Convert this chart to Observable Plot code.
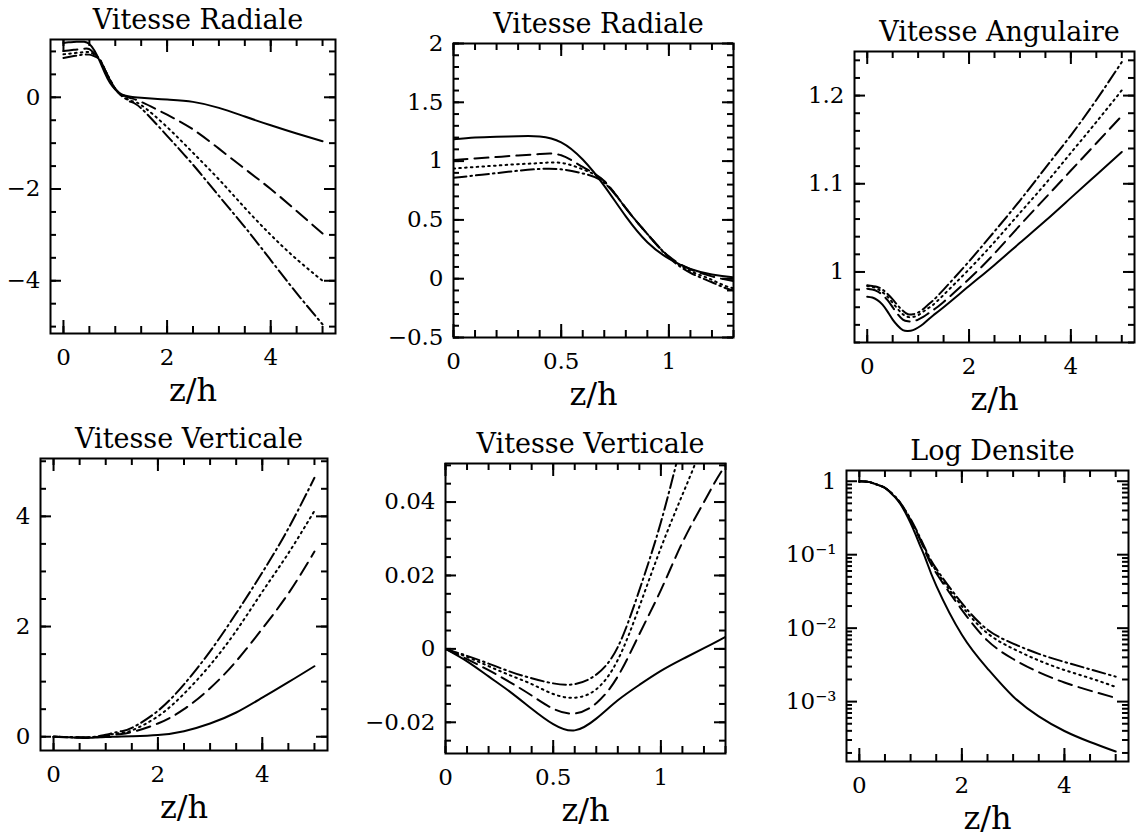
<!DOCTYPE html>
<html><head><meta charset="utf-8">
<script src="https://cdn.jsdelivr.net/npm/d3@7"></script>
<script src="https://cdn.jsdelivr.net/npm/@observablehq/plot@0.6"></script>
<style>
body{margin:0;background:#fff;}
#root{position:relative;width:1136px;height:837px;overflow:hidden;background:#fff;}
.panel{position:absolute;}
</style></head><body><div id="root"></div>
<script>
// z/h sample positions shared by every series
const z = [0,0.1,0.2,0.3,0.4,0.5,0.6,0.7,0.8,0.9,1.0,1.1,1.2,1.3,1.5,2,2.5,3,3.5,4,4.5,5];

// Vitesse Radiale
const vrSolid   = [1.185,1.200,1.207,1.212,1.210,1.160,1.014,0.790,0.530,0.310,0.170,0.082,0.035,0.011,-0.010,-0.050,-0.100,-0.230,-0.420,-0.610,-0.790,-0.960];
const vrDashed  = [1.010,1.022,1.035,1.048,1.060,1.050,0.950,0.830,0.600,0.380,0.190,0.080,0.020,-0.020,-0.100,-0.380,-0.700,-1.120,-1.560,-2.000,-2.480,-2.970];
const vrDotted  = [0.937,0.950,0.962,0.974,0.983,0.985,0.930,0.825,0.600,0.380,0.185,0.065,-0.010,-0.080,-0.170,-0.650,-1.210,-1.790,-2.410,-3.000,-3.530,-4.000];
const vrDashDot = [0.858,0.878,0.898,0.918,0.933,0.930,0.895,0.815,0.600,0.380,0.180,0.050,-0.030,-0.100,-0.240,-0.840,-1.470,-2.150,-2.830,-3.550,-4.270,-4.950];

// Vitesse Angulaire
const omSolid   = [0.972,0.971,0.968,0.963,0.955,0.946,0.939,0.934,0.933,0.934,0.937,0.941,0.946,0.951,0.960,0.984,1.008,1.033,1.058,1.084,1.110,1.136];
const omDashed  = [0.981,0.980,0.978,0.974,0.968,0.960,0.952,0.946,0.944,0.944,0.946,0.949,0.953,0.957,0.966,0.992,1.021,1.053,1.084,1.115,1.146,1.177];
const omDotted  = [0.984,0.983,0.981,0.977,0.972,0.965,0.958,0.952,0.949,0.949,0.951,0.955,0.959,0.963,0.974,1.003,1.034,1.067,1.100,1.135,1.170,1.206];
const omDashDot = [0.985,0.984,0.983,0.980,0.975,0.969,0.962,0.956,0.952,0.952,0.954,0.958,0.963,0.968,0.980,1.012,1.046,1.081,1.118,1.155,1.195,1.238];

// Vitesse Verticale
const vzSolid   = [0,-0.0034,-0.0075,-0.0117,-0.0163,-0.0205,-0.0222,-0.0190,-0.0140,-0.0098,-0.0060,-0.0028,0.0002,0.0033,0.009,0.030,0.100,0.240,0.440,0.710,0.990,1.280];
const vzDashed  = [0,-0.0028,-0.0058,-0.0091,-0.0127,-0.0163,-0.0176,-0.0148,-0.0075,0.0040,0.0160,0.0290,0.0400,0.0500,0.085,0.240,0.500,0.880,1.370,1.960,2.600,3.360];
const vzDotted  = [0,-0.0022,-0.0047,-0.0072,-0.0096,-0.0123,-0.0133,-0.0110,-0.0030,0.0115,0.0275,0.0420,0.0570,0.0710,0.115,0.370,0.780,1.300,1.920,2.630,3.330,4.100];
const vzDashDot = [0,-0.0019,-0.0040,-0.0062,-0.0080,-0.0094,-0.0096,-0.0070,0.0005,0.0160,0.0345,0.0570,0.0800,0.1000,0.160,0.470,0.950,1.550,2.240,2.980,3.780,4.700];

// Log Densite (log10 of the density)
const lrSolid   = [0,-0.003,-0.012,-0.035,-0.060,-0.090,-0.150,-0.220,-0.310,-0.430,-0.570,-0.730,-0.900,-1.070,-1.420,-2.090,-2.550,-2.930,-3.200,-3.400,-3.550,-3.680];
const lrDashed  = [0,-0.003,-0.012,-0.035,-0.060,-0.090,-0.145,-0.215,-0.300,-0.410,-0.530,-0.670,-0.820,-0.980,-1.250,-1.750,-2.170,-2.420,-2.600,-2.740,-2.850,-2.950];
const lrDotted  = [0,-0.003,-0.012,-0.035,-0.060,-0.090,-0.145,-0.213,-0.297,-0.405,-0.525,-0.660,-0.805,-0.960,-1.220,-1.700,-2.070,-2.280,-2.440,-2.570,-2.680,-2.800];
const lrDashDot = [0,-0.003,-0.012,-0.035,-0.060,-0.090,-0.143,-0.210,-0.293,-0.398,-0.515,-0.645,-0.790,-0.940,-1.190,-1.660,-2.020,-2.210,-2.350,-2.460,-2.560,-2.660];

// titles and tick labels
const titles = ["Vitesse Radiale","Vitesse Radiale","Vitesse Angulaire","Vitesse Verticale","Vitesse Verticale","Log Densite"];
const xLabel = "z/h";
const xTicksWide = [0,2,4], xTickLabelsWide = ["0","2","4"];
const xTicksNarrow = [0,0.5,1], xTickLabelsNarrow = ["0","0.5","1"];
const y1Ticks = [-4,-2,0], y1Labels = ["\u22124","\u22122","0"];
const y2Ticks = [-0.5,0,0.5,1,1.5,2], y2Labels = ["\u22120.5","0","0.5","1","1.5","2"];
const y3Ticks = [1,1.1,1.2], y3Labels = ["1","1.1","1.2"];
const y4Ticks = [0,2,4], y4Labels = ["0","2","4"];
const y5Ticks = [-0.02,0,0.02,0.04], y5Labels = ["\u22120.02","0","0.02","0.04"];
const y6Ticks = [1,0.1,0.01,0.001], y6Labels = ["1","10\u207B\u00B9","10\u207B\u00B2","10\u207B\u00B3"];

// minor tick positions
const xMinorWide = [0,0.5,1,1.5,2,2.5,3,3.5,4,4.5,5];
const xMinorNarrow = [0,0.1,0.2,0.3,0.4,0.5,0.6,0.7,0.8,0.9,1,1.1,1.2,1.3];
const y1Minor = [-5,-4.5,-4,-3.5,-3,-2.5,-2,-1.5,-1,-0.5,0,0.5,1];
const y2Minor = [-0.5,-0.4,-0.3,-0.2,-0.1,0,0.1,0.2,0.3,0.4,0.5,0.6,0.7,0.8,0.9,1,1.1,1.2,1.3,1.4,1.5,1.6,1.7,1.8,1.9,2];
const y3Minor = [0.92,0.94,0.96,0.98,1,1.02,1.04,1.06,1.08,1.1,1.12,1.14,1.16,1.18,1.2,1.22,1.24];
const y4Minor = [0,0.5,1,1.5,2,2.5,3,3.5,4,4.5,5];
const y5Minor = [-0.025,-0.02,-0.015,-0.01,-0.005,0,0.005,0.01,0.015,0.02,0.025,0.03,0.035,0.04,0.045,0.05];
const y6Minor = [0.0002,0.0003,0.0004,0.0005,0.0006,0.0007,0.0008,0.0009,0.002,0.003,0.004,0.005,0.006,0.007,0.008,0.009,
                 0.02,0.03,0.04,0.05,0.06,0.07,0.08,0.09,0.2,0.3,0.4,0.5,0.6,0.7,0.8,0.9];

const FONT = "DejaVu Serif";
const dashArrays = [null, "14,7", "1.6,4.2", "13,4,1.6,4"];

function panel(p) {
  const mL = 82, mR = 12, mT = 46, mB = 84;
  const fx0 = p.frame[0], fy0 = p.frame[1];
  const fw = p.frame[2] - p.frame[0];
  const fh = p.frame[3] - p.frame[1];
  const lines = p.series.map((vals, i) =>
    Plot.line(z.map((zz, j) => ({z: zz, v: p.map ? p.map(vals[j]) : vals[j]})),
      {x: "z", y: "v", stroke: "black", strokeWidth: 2, strokeDasharray: dashArrays[i],
       curve: "natural", clip: true}));
  const fx = new Map(p.xTicks.map((d, i) => [d, p.xLabels[i]]));
  const fy = new Map(p.yTicks.map((d, i) => [d, p.yLabels[i]]));
  const tickMarks = [];
  for (const [t, len] of [[p.xMinor, 7], [p.xTicks, 13]]) {
    tickMarks.push(Plot.ruleX(t, {x: d => d, insetTop: fh - len, stroke: "black", strokeWidth: 2}));
    tickMarks.push(Plot.ruleX(t, {x: d => d, insetBottom: fh - len, stroke: "black", strokeWidth: 2}));
  }
  for (const [t, len] of [[p.yMinor, 6], [p.yTicks, 11]]) {
    tickMarks.push(Plot.ruleY(t, {y: d => d, insetRight: fw - len, stroke: "black", strokeWidth: 2}));
    tickMarks.push(Plot.ruleY(t, {y: d => d, insetLeft: fw - len, stroke: "black", strokeWidth: 2}));
  }

  const chart = Plot.plot({
    width: mL + fw + mR, height: mT + fh + mB,
    marginLeft: mL, marginRight: mR, marginTop: mT, marginBottom: mB,
    style: {background: "transparent", overflow: "visible", maxWidth: "none", fontFamily: FONT},
    x: {domain: p.xDomain, axis: null},
    y: {domain: p.yDomain, type: p.yType || "linear", axis: null},
    marks: [
      Plot.frame({stroke: "black", strokeWidth: 2}),
      ...lines,
      ...tickMarks,
      Plot.text(p.xTicks, {x: d => d, text: d => fx.get(d), frameAnchor: "bottom", lineAnchor: "top",
        dy: 15, fontSize: 23, fontFamily: FONT, fill: "black"}),
      Plot.text(p.yTicks, {y: d => d, text: d => fy.get(d), frameAnchor: "left", textAnchor: "end",
        dx: -10, fontSize: 23, fontFamily: FONT, fill: "black"}),
      Plot.text([p.title], {frameAnchor: "top", dy: -11, dx: 5, lineAnchor: "bottom", fontSize: 27, fontFamily: FONT, fill: "black"}),
      Plot.text([xLabel], {frameAnchor: "bottom", dy: 67, lineAnchor: "bottom", fontSize: 32, fontFamily: FONT, fill: "black"})
    ]
  });
  const div = document.createElement("div");
  div.className = "panel";
  div.style.left = (fx0 - mL) + "px";
  div.style.top = (fy0 - mT) + "px";
  div.style.width = (mL + fw + mR) + "px";
  div.appendChild(chart);
  document.getElementById("root").appendChild(div);
}

panel({title: titles[0], frame: [50, 39, 335, 333], xDomain: [-0.25, 5.25], yDomain: [-5.15, 1.26],
  series: [vrSolid, vrDashed, vrDotted, vrDashDot],
  xTicks: xTicksWide, xLabels: xTickLabelsWide, xMinor: xMinorWide,
  yTicks: y1Ticks, yLabels: y1Labels, yMinor: y1Minor});

panel({title: titles[1], frame: [453, 43, 733, 337], xDomain: [0, 1.3], yDomain: [-0.5, 2],
  series: [vrSolid, vrDashed, vrDotted, vrDashDot],
  xTicks: xTicksNarrow, xLabels: xTickLabelsNarrow, xMinor: xMinorNarrow,
  yTicks: y2Ticks, yLabels: y2Labels, yMinor: y2Minor});

panel({title: titles[2], frame: [854, 51, 1134, 342], xDomain: [-0.25, 5.25], yDomain: [0.92, 1.25],
  series: [omSolid, omDashed, omDotted, omDashDot],
  xTicks: xTicksWide, xLabels: xTickLabelsWide, xMinor: xMinorWide,
  yTicks: y3Ticks, yLabels: y3Labels, yMinor: y3Minor});

panel({title: titles[3], frame: [40, 458, 327, 750], xDomain: [-0.25, 5.25], yDomain: [-0.25, 5.05],
  series: [vzSolid, vzDashed, vzDotted, vzDashDot],
  xTicks: xTicksWide, xLabels: xTickLabelsWide, xMinor: xMinorWide,
  yTicks: y4Ticks, yLabels: y4Labels, yMinor: y4Minor});

panel({title: titles[4], frame: [445, 463, 725, 753], xDomain: [0, 1.3], yDomain: [-0.0285, 0.0505],
  series: [vzSolid, vzDashed, vzDotted, vzDashDot],
  xTicks: xTicksNarrow, xLabels: xTickLabelsNarrow, xMinor: xMinorNarrow,
  yTicks: y5Ticks, yLabels: y5Labels, yMinor: y5Minor});

panel({title: titles[5], frame: [846, 470, 1128, 761], xDomain: [-0.25, 5.25], yDomain: [1.53e-4, 1.4], yType: "log",
  series: [lrSolid, lrDashed, lrDotted, lrDashDot], map: v => Math.pow(10, v),
  xTicks: xTicksWide, xLabels: xTickLabelsWide, xMinor: xMinorWide,
  yTicks: y6Ticks, yLabels: y6Labels, yMinor: y6Minor});
</script>
</body></html>
